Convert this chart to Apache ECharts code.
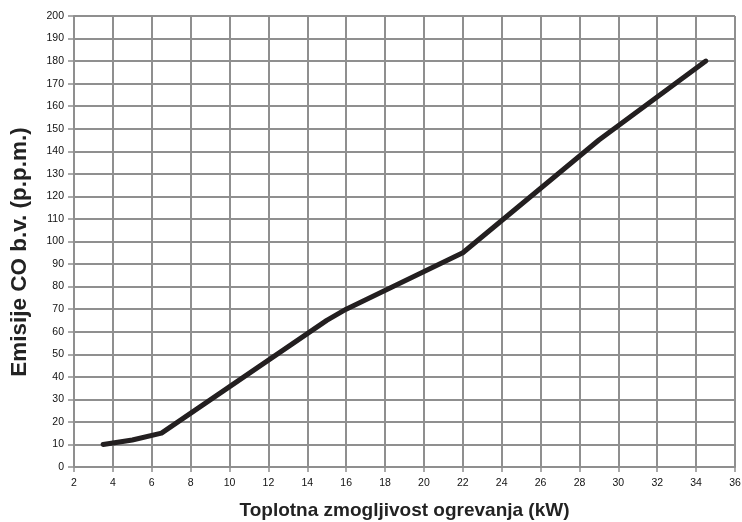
<!DOCTYPE html>
<html><head><meta charset="utf-8">
<script src="https://cdn.jsdelivr.net/npm/echarts@6/dist/echarts.min.js"></script>
<style>html,body{margin:0;padding:0;background:#fff}#c{width:742px;height:522px}</style>
</head><body><div id="c"></div>
<script>
const xValues = [3.5, 5, 6.5, 15, 16, 22, 29, 34.5];
const yValues = [10, 12, 15, 65, 70, 95, 145, 180];
const xTitle = 'Toplotna zmogljivost ogrevanja (kW)';
const yTitle = 'Emisije CO b.v. (p.p.m.)';

const chart = echarts.init(document.getElementById('c'), null, {renderer: 'canvas'});
const gridColor = '#8f8f8f';
const labelFont = {fontFamily: 'Liberation Sans Narrow, Liberation Sans, sans-serif', fontSize: 10.5, color: '#111'};
chart.setOption({
  animation: false,
  backgroundColor: '#fff',
  grid: {left: 74, right: 7, top: 16, bottom: 55, containLabel: false, outerBoundsMode: 'none'},
  xAxis: {
    type: 'value', min: 2, max: 36, interval: 2,
    name: xTitle, nameLocation: 'middle', nameGap: 34,
    nameTextStyle: {fontFamily: 'Liberation Sans, Arial, sans-serif', fontWeight: 'bold', fontSize: 19, color: '#222'},
    axisLine: {show: true, lineStyle: {color: gridColor, width: 2}},
    axisTick: {show: true, length: 5, lineStyle: {color: gridColor, width: 1.5}},
    axisLabel: Object.assign({margin: 11}, labelFont),
    splitLine: {show: true, lineStyle: {color: gridColor, width: 2}}
  },
  yAxis: {
    type: 'value', min: 0, max: 200, interval: 10,
    name: yTitle, nameLocation: 'middle', nameGap: 43, nameRotate: 90,
    nameTextStyle: {fontFamily: 'Liberation Sans, Arial, sans-serif', fontWeight: 'bold', fontSize: 22.5, color: '#222', padding: [0, 21, 0, 0]},
    axisLine: {show: true, lineStyle: {color: gridColor, width: 2}},
    axisTick: {show: true, length: 6, lineStyle: {color: gridColor, width: 1.5}},
    axisLabel: Object.assign({margin: 10}, labelFont),
    splitLine: {show: true, lineStyle: {color: gridColor, width: 2}}
  },
  series: [{
    type: 'line',
    data: xValues.map((x, i) => [x, yValues[i]]),
    showSymbol: false,
    lineStyle: {color: '#231f20', width: 5, cap: 'round', join: 'round'}
  }]
});
</script></body></html>
